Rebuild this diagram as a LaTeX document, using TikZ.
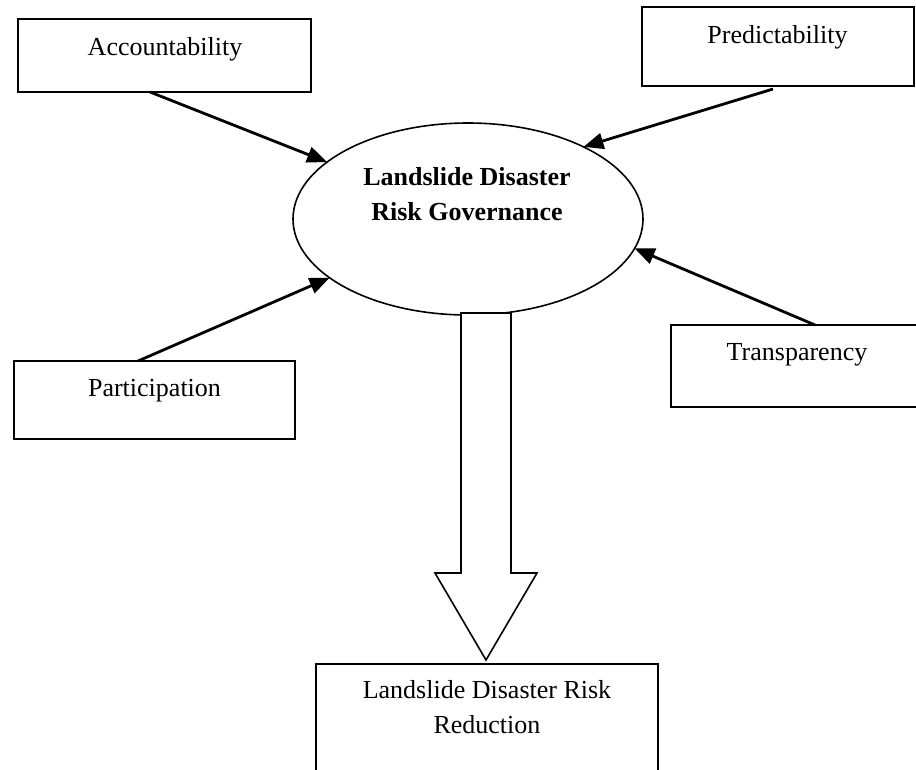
\documentclass[tikz,border=0pt]{standalone}
\usepackage{fontspec}
\setmainfont{Liberation Serif}
\usetikzlibrary{arrows.meta,shapes.geometric}
\begin{document}
\begin{tikzpicture}[x=1pt,y=-1pt,
  box/.style={draw,line width=2.4pt,rectangle,inner sep=0pt,outer sep=0pt},
  lbl/.style={font=\fontsize{26}{34}\selectfont,inner sep=0pt,anchor=base},
  conn/.style={line width=2.8pt,-{Triangle[length=20pt,width=16pt]}},
  ]
\clip (0,0) rectangle (916,769);
\fill[white] (0,0) rectangle (916,769);
% boxes
\node[box,minimum width=293pt,minimum height=73pt] (acc) at (164.5,55.5) {};
\node[lbl] (accT) at (165,55) {Accountability};
\node[box,minimum width=272pt,minimum height=79pt] (pred) at (778,46.5) {};
\node[lbl] (predT) at (777.5,43) {Predictability};
\node[box,minimum width=281pt,minimum height=78pt] (part) at (154.5,400) {};
\node[lbl] (partT) at (154.5,396) {Participation};
\node[box,minimum width=250pt,minimum height=82pt] (trans) at (796,366) {};
\node[lbl] (transT) at (797,360) {Transparency};
\node[box,minimum width=342pt,minimum height=140pt] (red) at (487,734) {};
\node[font=\fontsize{26}{35}\selectfont,inner sep=0pt,align=center] (redT) at (487,707.5) {Landslide Disaster Risk\\Reduction};
% ellipse
\node[draw,ellipse,line width=1.6pt,minimum width=350pt,minimum height=192pt,inner sep=0pt,outer sep=0pt] (gov) at (468,219) {};
\node[font=\fontsize{26}{35}\selectfont\bfseries,inner sep=0pt,align=center] (govT) at (467,194) {Landslide Disaster\\Risk Governance};
% connectors
\draw[conn] ([xshift=-14.5pt]acc.south) -- (gov.158.6);
\draw[conn] ([xshift=-5pt,yshift=-3pt]pred.south) -- (gov.32.3);
\draw[conn] ([xshift=-16.5pt]part.north) -- (gov.203.8);
\draw[conn] ([xshift=19pt]trans.north) -- (gov.350.6);
% big block arrow
\draw[line width=1.6pt,fill=white,line join=miter]
  (461,313) -- (461,573) -- (435,573) -- (486,660) -- (537,573) -- (511,573) -- (511,313) -- cycle;
\end{tikzpicture}
\end{document}
